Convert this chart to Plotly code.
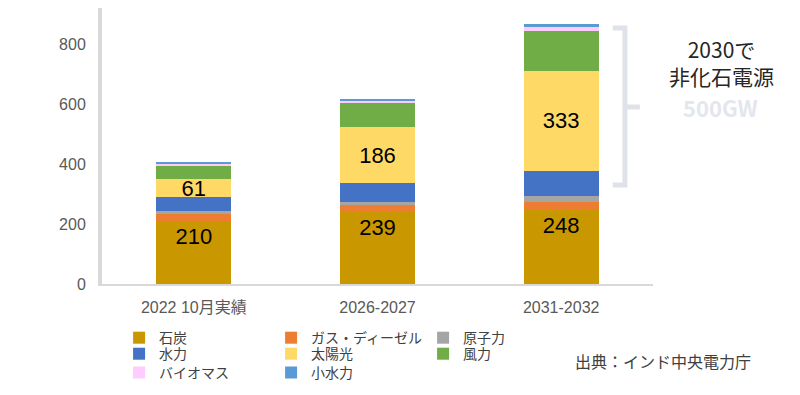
import plotly.graph_objects as go

categories = ["2022 10月実績", "2026-2027", "2031-2032"]
series_names = ["石炭", "ガス・ディーゼル", "原子力", "水力", "太陽光", "風力", "バイオマス", "小水力"]
coal = [210, 239, 248]
gas_diesel = [25, 24, 25]
nuclear = [7, 12, 22]
hydro = [47, 61, 83]
solar = [61, 186, 333]
wind = [42, 80, 133]
biomass = [11, 11, 14]
small_hydro = [5, 5, 8]
series_values = [coal, gas_diesel, nuclear, hydro, solar, wind, biomass, small_hydro]
colors = ["#C99700", "#ED7D31", "#A5A5A5", "#4472C4", "#FFD966", "#70AD47", "#FFCCFF", "#5B9BD5"]
labelled = {"石炭": "end", "太陽光": "middle"}
y_ticks = [0, 200, 400, 600, 800]

FONT = "Liberation Sans, Arial, Noto Sans CJK JP, sans-serif"
legend_ids = ["legend", "legend2", "legend3"]
legend_rows_y = [-0.196, -0.254, -0.322]

fig = go.Figure()
for i, (name, vals, col) in enumerate(zip(series_names, series_values, colors)):
    if name in labelled:
        kw = dict(text=[str(v) for v in vals], textposition="inside",
                  insidetextanchor=labelled[name], constraintext="none",
                  textangle=0,
                  insidetextfont=dict(size=22, color="#000000", family=FONT))
    else:
        kw = dict(textposition="none")
    fig.add_trace(go.Bar(x=categories, y=vals, name=name, legend=legend_ids[i // 3],
                         marker=dict(color=col, line=dict(width=0)), **kw))

legend_common = dict(orientation="h", x=0.031, xanchor="left", yanchor="middle",
                     entrywidth=107, entrywidthmode="pixels",
                     font=dict(size=14, color="#404040", family=FONT),
                     traceorder="normal", itemclick=False, itemdoubleclick=False,
                     bgcolor="rgba(0,0,0,0)", borderwidth=0)

fig.update_layout(
    barmode="stack",
    bargap=0.59,
    width=792, height=387,
    margin=dict(l=94, r=147, t=0, b=111, autoexpand=False),
    paper_bgcolor="white", plot_bgcolor="white",
    font=dict(family=FONT, color="#595959"),
    showlegend=True,
    legend=dict(y=legend_rows_y[0], **legend_common),
    legend2=dict(y=legend_rows_y[1], **legend_common),
    legend3=dict(y=legend_rows_y[2], **legend_common),
    xaxis=dict(showline=True, linecolor="#D9D9D9", linewidth=2, ticks="",
               ticklabelstandoff=8,
               tickfont=dict(size=16, color="#595959"), showgrid=False),
    yaxis=dict(range=[0, 920], tickvals=y_ticks, showgrid=False, zeroline=False,
               showline=True, linecolor="#D9D9D9", linewidth=4, ticks="",
               ticklabelstandoff=9,
               tickfont=dict(size=16, color="#595959")),
)

# bracket marking the non-fossil range in 2030
br_color = "#DFE2E8"
fig.add_shape(type="path", xref="paper", yref="y",
              path="M 0.927,853 L 0.949,853 L 0.949,330 L 0.927,330",
              line=dict(color=br_color, width=5))
fig.add_shape(type="line", xref="paper", yref="y", x0=0.949, x1=0.976, y0=590, y1=590,
              line=dict(color=br_color, width=5))

JP = "Noto Sans CJK JP, sans-serif"
fig.add_annotation(xref="paper", yref="paper", x=1.124, y=0.8025,
                   text="2030で<br>非化石電源",
                   xanchor="center", yanchor="middle", align="center",
                   showarrow=False, font=dict(size=21, color="#262626", family=JP))
fig.add_annotation(xref="paper", yref="paper", x=1.122, y=0.640, text="<b>500GW</b>",
                   xanchor="center", yanchor="middle",
                   showarrow=False, font=dict(size=22, color="#E3E6EC", family=JP))
fig.add_annotation(xref="paper", yref="paper", x=0.855, y=-0.283,
                   xanchor="left", yanchor="middle",
                   text="出典：インド中央電力庁", showarrow=False,
                   font=dict(size=16, color="#404040", family=FONT))

fig.write_html("out.html")
